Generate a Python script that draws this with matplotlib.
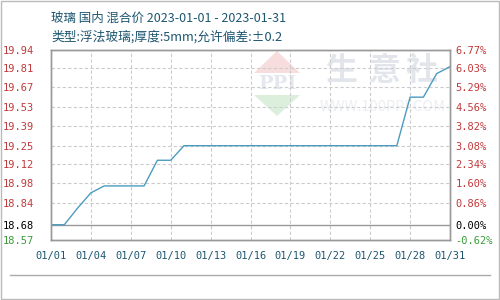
import matplotlib
matplotlib.use('Agg')
import matplotlib.pyplot as plt
from matplotlib.lines import Line2D
from matplotlib.patches import Rectangle, Polygon

plt.rcParams['font.family'] = ['Noto Sans CJK SC', 'DejaVu Sans']

# data
days = list(range(1, 32))
price = [18.68, 18.68, 18.80, 18.91, 18.96, 18.96, 18.96, 18.96, 19.145, 19.145,
         19.25, 19.25, 19.25, 19.25, 19.25, 19.25, 19.25, 19.25, 19.25, 19.25,
         19.25, 19.25, 19.25, 19.25, 19.25, 19.25, 19.25, 19.60, 19.60, 19.77, 19.82]
x_ticks = [1, 4, 7, 10, 13, 16, 19, 22, 25, 28, 31]
x_labels = ['01/01', '01/04', '01/07', '01/10', '01/13', '01/16', '01/19',
            '01/22', '01/25', '01/28', '01/31']
y_ticks = [18.57, 18.68, 18.84, 18.98, 19.12, 19.25, 19.39, 19.53, 19.67, 19.81, 19.94]
y_labels = ['18.57', '18.68', '18.84', '18.98', '19.12', '19.25', '19.39',
            '19.53', '19.67', '19.81', '19.94']
pct_labels = ['-0.62%', '0.00%', '0.86%', '1.60%', '2.34%', '3.08%', '3.82%',
              '4.56%', '5.29%', '6.03%', '6.77%']
base = 18.68

red = '#c0393b'
green = '#3a9a3a'
teal = '#1d5670'

fig = plt.figure(figsize=(5, 3), dpi=100)
ax = fig.add_axes([0.102, 0.2, 0.798, 0.6333])


def px(x, y):
    # pixel position -> figure fraction
    return (x / 500, 1 - y / 300)


# watermark logo and text (behind the axes)
fig.add_artist(Polygon([px(277, 51), px(254, 73), px(300, 73)], closed=True,
                       facecolor='#f7dddd', edgecolor='none', zorder=-1,
                       transform=fig.transFigure))
fig.add_artist(Polygon([px(254, 95), px(300, 95), px(277, 116)], closed=True,
                       facecolor='#dcefdc', edgecolor='none', zorder=-1,
                       transform=fig.transFigure))
fig.text(*px(277, 84), 'PPI', fontsize=14, fontweight='bold', color='#e4e8ee',
         ha='center', va='center', zorder=-1, family='DejaVu Serif')
for ch, cx in zip('生意社', [341, 385, 422]):
    fig.text(*px(cx, 71), ch, fontsize=23, fontweight='bold', color='#e2e6ec',
             ha='center', va='center', zorder=-1)
fig.text(*px(383, 107), 'WWW.100PPI.COM', fontsize=10.5, color='#eceef2',
         ha='center', va='center', zorder=-1)
ax.patch.set_alpha(0)

# grid
for t in y_ticks[2:-1]:
    ax.axhline(t, color='#cccccc', linestyle=(0, (3, 2)), linewidth=0.8, zorder=1)
for t in x_ticks[1:-1]:
    ax.axvline(t, color='#cccccc', linestyle=(0, (3, 2)), linewidth=0.8, zorder=1)
ax.axhline(base, color='#999999', linewidth=1.0, zorder=2)

ax.plot(days, price, color='#4c9bbf', linewidth=1.0, zorder=3)

ax.set_xlim(1, 31)
ax.set_ylim(18.57, 19.94)
ax.set_xticks(x_ticks)
ax.set_xticklabels(x_labels, family='DejaVu Sans Mono', fontsize=7.5, color=teal)
ax.set_yticks(y_ticks)
ax.set_yticklabels(y_labels, family='DejaVu Sans Mono', fontsize=7.5)
ax.tick_params(axis='both', length=0)
ax.tick_params(axis='y', pad=12)
ax.tick_params(axis='x', pad=8)
for i, lab in enumerate(ax.get_yticklabels()):
    lab.set_color(green if i == 0 else ('black' if i == 1 else red))

ax2 = ax.twinx()
ax2.set_ylim(18.57, 19.94)
ax2.set_yticks(y_ticks)
ax2.set_yticklabels(pct_labels, family='DejaVu Sans Mono', fontsize=7.5)
ax2.tick_params(axis='y', length=0, pad=4)
for i, lab in enumerate(ax2.get_yticklabels()):
    lab.set_color(green if i == 0 else ('black' if i == 1 else red))
ax2.patch.set_alpha(0)

for a in (ax, ax2):
    for s in a.spines.values():
        s.set_color('#999999')
        s.set_linewidth(1.0)

fig.text(0.102, 0.94, '玻璃 国内 混合价 2023-01-01 - 2023-01-31', fontsize=9,
         color=teal, va='center')
fig.text(0.102, 0.877, '类型:浮法玻璃;厚度:5mm;允许偏差:±0.2', fontsize=9.2,
         color=teal, va='center')

fig.add_artist(Line2D([0.02, 0.98], [0.083, 0.083], color='#aaaaaa', linewidth=1.0))
fig.add_artist(Rectangle((0.001, 0.002), 0.997, 0.995, fill=False,
                         edgecolor='#bbbbbb', linewidth=1.0, transform=fig.transFigure))

fig.savefig('out.png', dpi=100)
